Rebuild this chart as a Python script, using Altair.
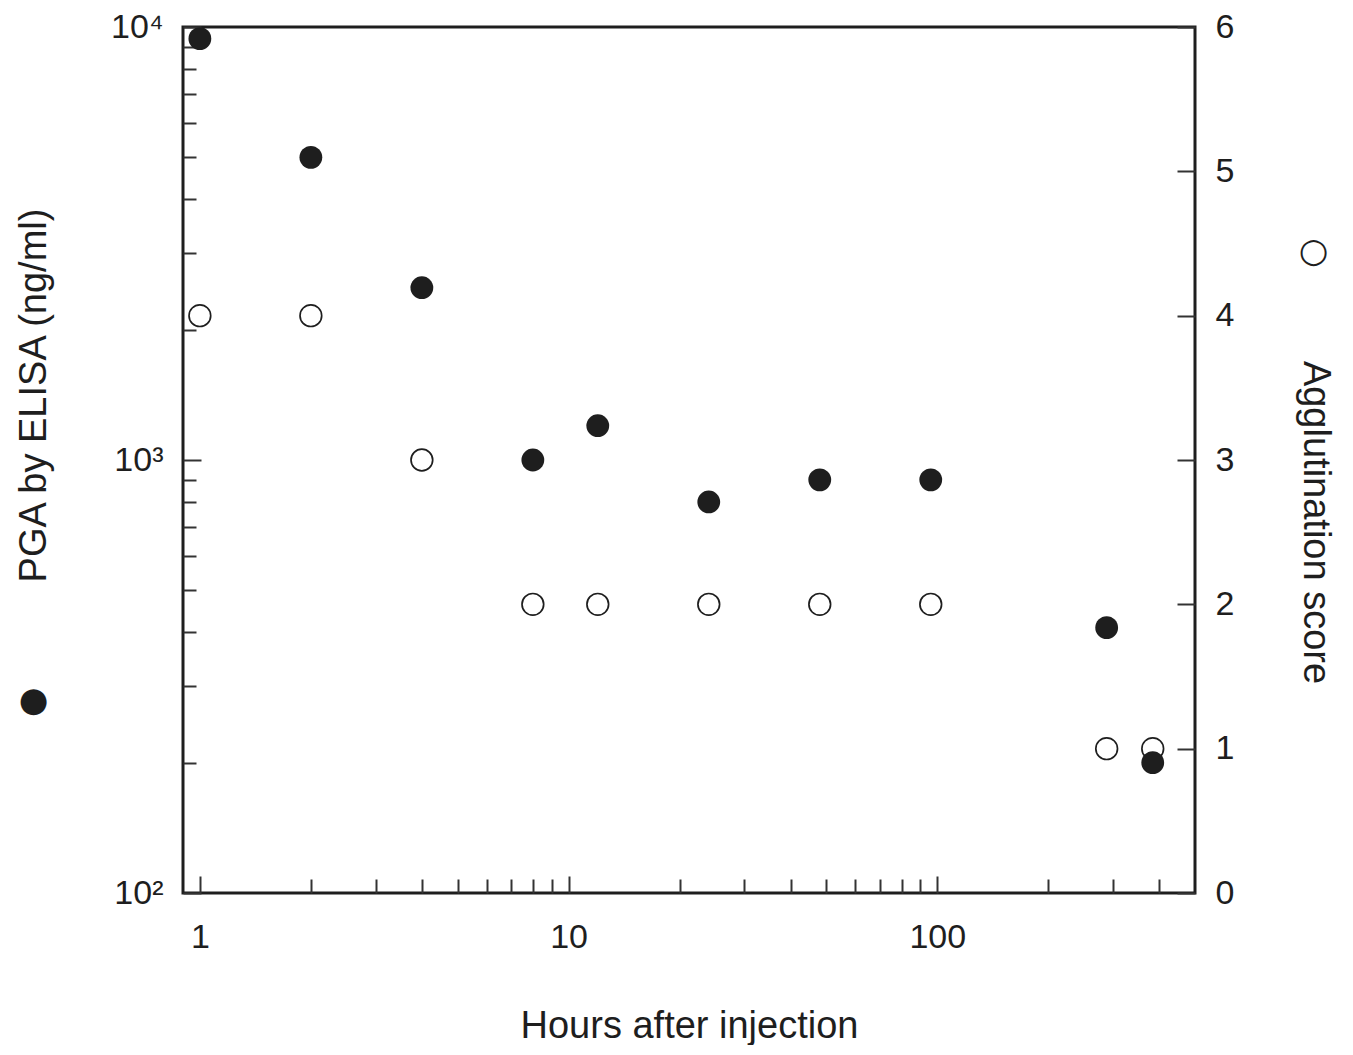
import altair as alt
import pandas as pd

# ---- data ----
hours = [1, 2, 4, 8, 12, 24, 48, 96, 288, 384]
pga_ng_ml = [9400, 5000, 2500, 1000, 1200, 800, 900, 900, 410, 200]
agglutination = [4, 4, 3, 2, 2, 2, 2, 2, 1, 1]

x_major = [1, 10, 100]
x_minor = [2, 3, 4, 5, 6, 7, 8, 9, 20, 30, 40, 50, 60, 70, 80, 90, 200, 300, 400]
y_major = [100, 1000, 10000]
y_minor = [200, 300, 400, 500, 600, 700, 800, 900,
           2000, 3000, 4000, 5000, 6000, 7000, 8000, 9000]
score_ticks = [0, 1, 2, 3, 4, 5, 6]

df = pd.DataFrame({"hours": hours, "pga": pga_ng_ml, "agg": agglutination})

FONT = "Liberation Sans"
SYM_FONT = "DejaVu Sans"
INK = "#1e1e1e"

x_scale = alt.Scale(type="log", domain=[0.9, 500], nice=False)
y_scale = alt.Scale(type="log", domain=[100, 10000], nice=False)
r_scale = alt.Scale(domain=[0, 6], nice=False, zero=False)

base = alt.Chart(df)

# open circles: agglutination score (right axis)
open_layer = base.mark_point(
    shape="circle", filled=False, size=470, strokeWidth=1.7, color=INK, opacity=1
).encode(
    x=alt.X("hours:Q", scale=x_scale, axis=None),
    y=alt.Y(
        "agg:Q",
        scale=r_scale,
        axis=alt.Axis(
            orient="right", values=score_ticks, format="d",
            tickSize=18, offset=-18, domain=False, labelPadding=20,
            labelFlush=False, grid=False,
            title="Agglutination score",
            titleAngle=90, titleAlign="center", titleBaseline="alphabetic",
            titleX=126, titleY=495,
        ),
    ),
)

# filled circles: PGA by ELISA (left log axis, major ticks)
filled_layer = base.mark_circle(size=520, color=INK, opacity=1).encode(
    x=alt.X(
        "hours:Q",
        scale=x_scale,
        axis=alt.Axis(
            orient="bottom", values=x_major, format="d",
            tickSize=17, offset=-17, domain=False, labelPadding=27,
            labelFlush=False, grid=False,
            title="Hours after injection",
            titleBaseline="alphabetic", titleY=161,
        ),
    ),
    y=alt.Y(
        "pga:Q",
        scale=y_scale,
        axis=alt.Axis(
            orient="left", values=y_major,
            labelExpr="datum.value == 100 ? '10²' : datum.value == 1000 ? '10³' : '10⁴'",
            tickSize=18, offset=-18, domain=False, labelPadding=20,
            labelFlush=False, grid=False,
            title="PGA by ELISA (ng/ml)",
            titleAngle=-90, titleAlign="center", titleBaseline="alphabetic",
            titleX=-156, titleY=368,
        ),
    ),
)

# invisible copy carrying the minor tick axes and the filled-circle key
minor_layer = base.mark_circle(size=10, opacity=0).encode(
    x=alt.X(
        "hours:Q",
        scale=x_scale,
        axis=alt.Axis(
            orient="bottom", values=x_minor, labels=False, title=None,
            tickSize=14, offset=-14, domain=False, grid=False,
        ),
    ),
    y=alt.Y(
        "pga:Q",
        scale=y_scale,
        axis=alt.Axis(
            orient="left", values=y_minor, labels=False,
            tickSize=13, offset=-13, domain=False, grid=False,
            title="●", titleFont=SYM_FONT, titleFontSize=34,
            titleAngle=0, titleAlign="center", titleBaseline="middle",
            titleX=-163, titleY=673,
        ),
    ),
)

# invisible copy carrying the open-circle key next to the right axis title
key_layer = base.mark_point(size=10, opacity=0).encode(
    x=alt.X("hours:Q", scale=x_scale, axis=None),
    y=alt.Y(
        "agg:Q",
        scale=r_scale,
        axis=alt.Axis(
            orient="right", ticks=False, labels=False, domain=False, grid=False,
            title="○", titleFont=SYM_FONT, titleFontSize=34,
            titleAngle=0, titleAlign="center", titleBaseline="middle",
            titleX=118, titleY=224,
        ),
    ),
)

chart = (
    alt.layer(open_layer, filled_layer, minor_layer, key_layer)
    .resolve_scale(y="independent")
    .resolve_axis(x="independent", y="independent")
    .properties(
        width=1012,
        height=866,
        autosize=alt.AutoSizeParams(type="none"),
        padding={"left": 175, "top": 19, "right": 150, "bottom": 152},
    )
    .configure_axis(
        labelFont=FONT, titleFont=FONT,
        labelFontSize=34, titleFontSize=38,
        labelColor=INK, titleColor=INK,
        titleFontWeight="normal",
        tickColor="#333", tickWidth=2,
    )
    .configure_view(stroke=INK, strokeWidth=3)
)

chart.save("out.html", embed_options={"renderer": "svg", "actions": False})
